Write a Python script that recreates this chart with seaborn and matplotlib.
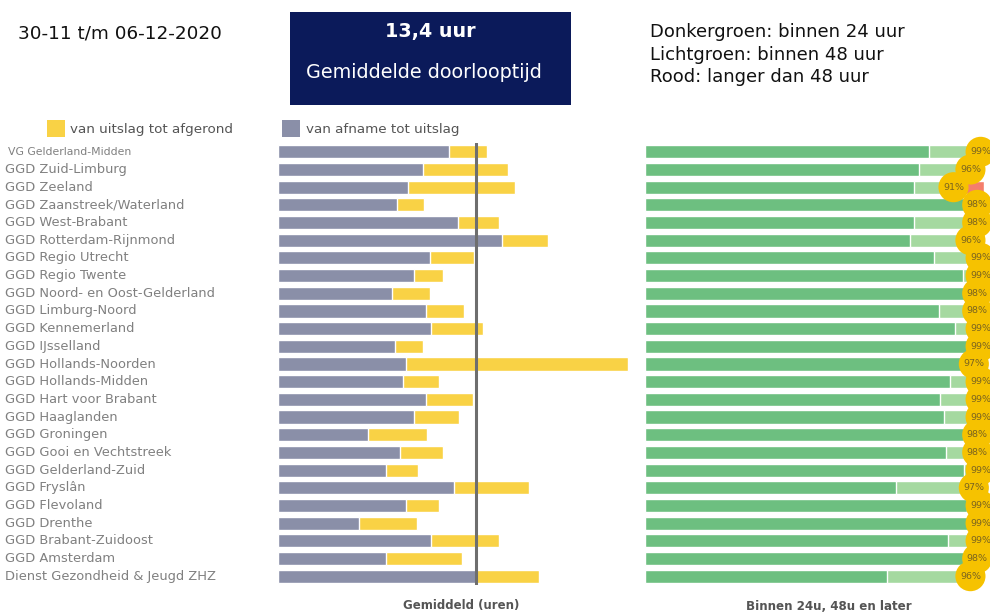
import matplotlib
matplotlib.use("Agg")
import matplotlib.pyplot as plt
import seaborn as sns
import pandas as pd
import numpy as np
from matplotlib.patches import Rectangle

sns.set_theme(style="white")
plt.rcParams['font.family'] = ['DejaVu Sans']

regions = [
    "VG Gelderland-Midden", "GGD Zuid-Limburg", "GGD Zeeland", "GGD Zaanstreek/Waterland",
    "GGD West-Brabant", "GGD Rotterdam-Rijnmond", "GGD Regio Utrecht", "GGD Regio Twente",
    "GGD Noord- en Oost-Gelderland", "GGD Limburg-Noord", "GGD Kennemerland", "GGD IJsselland",
    "GGD Hollands-Noorden", "GGD Hollands-Midden", "GGD Hart voor Brabant", "GGD Haaglanden",
    "GGD Groningen", "GGD Gooi en Vechtstreek", "GGD Gelderland-Zuid", "GGD Fryslân",
    "GGD Flevoland", "GGD Drenthe", "GGD Brabant-Zuidoost", "GGD Amsterdam",
    "Dienst Gezondheid & Jeugd ZHZ",
]
# hours: sampling -> result, result -> completed
afname_uitslag = [11.6, 9.8, 8.8, 8.1, 12.2, 15.2, 10.3, 9.2, 7.7, 10.0, 10.4, 7.9, 8.7,
                  8.5, 10.0, 9.2, 6.1, 8.3, 7.3, 11.9, 8.7, 5.5, 10.4, 7.3, 13.4]
uitslag_afgerond = [2.6, 5.8, 7.3, 1.8, 2.8, 3.1, 3.0, 2.0, 2.6, 2.6, 3.5, 1.9, 15.0,
                    2.4, 3.2, 3.1, 4.0, 2.9, 2.2, 5.1, 2.2, 3.9, 4.6, 5.2, 4.3]
gemiddeld = 13.4
# percentages
binnen_24 = [83.8, 80.8, 79.4, 94.4, 79.4, 78.2, 85.2, 93.8, 94.4, 86.7, 91.5, 95.5, 94.4,
             90.0, 87.0, 88.2, 94.0, 88.8, 94.0, 74.0, 95.0, 95.5, 89.4, 94.0, 71.4]
binnen_48 = [99, 96, 91, 98, 98, 96, 99, 99, 98, 98, 99, 99, 97,
             99, 99, 99, 98, 98, 99, 97, 99, 99, 99, 98, 96]

df = pd.DataFrame({
    "regio": regions,
    "afname": afname_uitslag,
    "totaal": np.array(afname_uitslag) + np.array(uitslag_afgerond),
    "b24": binnen_24,
    "b48": binnen_48,
    "alles": [100] * len(regions),
})
df["label"] = [f"{v}%" for v in binnen_48]

GRAY = "#8a8fa8"
YELLOW = "#f9d245"
DGREEN = "#6dbf80"
LGREEN = "#a5d9a0"
RED = "#f47e6c"
GOLD = "#f6c200"
NAVY = "#0b1a5a"

W, H = 990, 614
fig = plt.figure(figsize=(W / 100, H / 100), dpi=100)

def fx(px):
    return px / W

def fy(py):
    return 1 - py / H

top_px, bot_px = 143, 585
ax1 = fig.add_axes([fx(278), fy(bot_px), fx(635 - 278), (bot_px - top_px) / H])
ax2 = fig.add_axes([fx(645), fy(bot_px), fx(984 - 645), (bot_px - top_px) / H])

bh = 0.74
sns.barplot(data=df, x="totaal", y="regio", orient="h", color=YELLOW, width=bh,
            saturation=1, ax=ax1)
sns.barplot(data=df, x="afname", y="regio", orient="h", color=GRAY, width=bh,
            saturation=1, ax=ax1)
ax1.axvline(gemiddeld, color="#6e6e6e", lw=2.2, zorder=5)
ax1.set_xlim(0, (635 - 278) / 14.75)
ax1.set_ylim(len(regions) - 0.5, -0.5)

sns.barplot(data=df, x="alles", y="regio", orient="h", color=RED, width=bh,
            saturation=1, ax=ax2)
sns.barplot(data=df, x="b48", y="regio", orient="h", color=LGREEN, width=bh,
            saturation=1, ax=ax2)
sns.barplot(data=df, x="b24", y="regio", orient="h", color=DGREEN, width=bh,
            saturation=1, ax=ax2)
ax2.set_xlim(0, 100)
ax2.set_ylim(len(regions) - 0.5, -0.5)
sns.scatterplot(data=df, x="b48", y="regio", ax=ax2, color=GOLD, s=470,
                edgecolor="none", clip_on=False, zorder=6, legend=False)
for i, row in df.iterrows():
    ax2.text(row["b48"], i, row["label"], ha="center", va="center", fontsize=6.8,
             color="#7a6420", zorder=7, clip_on=False)

for ax in (ax1, ax2):
    ax.set_xticks([])
    ax.set_yticks([])
    ax.set_xlabel("")
    ax.set_ylabel("")
    for s in ax.spines.values():
        s.set_visible(False)
    ax.patch.set_alpha(0)

# category labels, left aligned
for i, name in enumerate(regions):
    ax1.text((5 - 278) / (635 - 278) if i else (8 - 278) / (635 - 278), i, name,
             transform=ax1.get_yaxis_transform(),
             ha="left", va="center", fontsize=9.4 if i else 7.8, color="#808080")

# axis captions
fig.text(fx(461), fy(606), "Gemiddeld (uren)", ha="center", va="center",
         fontsize=8.5, color="#555555", fontweight="bold")
fig.text(fx(829), fy(606), "Binnen 24u, 48u en later", ha="center", va="center",
         fontsize=8.6, color="#555555", fontweight="bold")

# header
fig.text(fx(18), fy(34), "30-11 t/m 06-12-2020", ha="left", va="center",
         fontsize=13.2, color="#111111")
fig.patches.append(Rectangle((fx(290), fy(105)), fx(571 - 290), (105 - 12) / H,
                             transform=fig.transFigure, facecolor=NAVY,
                             edgecolor="none"))
fig.text(fx(430), fy(31), "13,4 uur", ha="center", va="center", fontsize=13.8,
         color="white", fontweight="bold")
fig.text(fx(424), fy(73), "Gemiddelde doorlooptijd", ha="center", va="center",
         fontsize=13.8, color="white")
for k, t in enumerate(["Donkergroen: binnen 24 uur", "Lichtgroen: binnen 48 uur",
                       "Rood: langer dan 48 uur"]):
    fig.text(fx(650), fy(32 + 22.5 * k), t, ha="left", va="center",
             fontsize=13, color="#111111")

# legend
fig.patches.append(Rectangle((fx(47), fy(137)), fx(18), 17 / H,
                             transform=fig.transFigure, facecolor=YELLOW,
                             edgecolor="none"))
fig.text(fx(70), fy(129), "van uitslag tot afgerond", ha="left", va="center",
         fontsize=9.7, color="#555555")
fig.patches.append(Rectangle((fx(282), fy(137)), fx(18), 17 / H,
                             transform=fig.transFigure, facecolor=GRAY,
                             edgecolor="none"))
fig.text(fx(306), fy(129), "van afname tot uitslag", ha="left", va="center",
         fontsize=9.7, color="#555555")

fig.savefig("out.png", dpi=100, facecolor="white")
